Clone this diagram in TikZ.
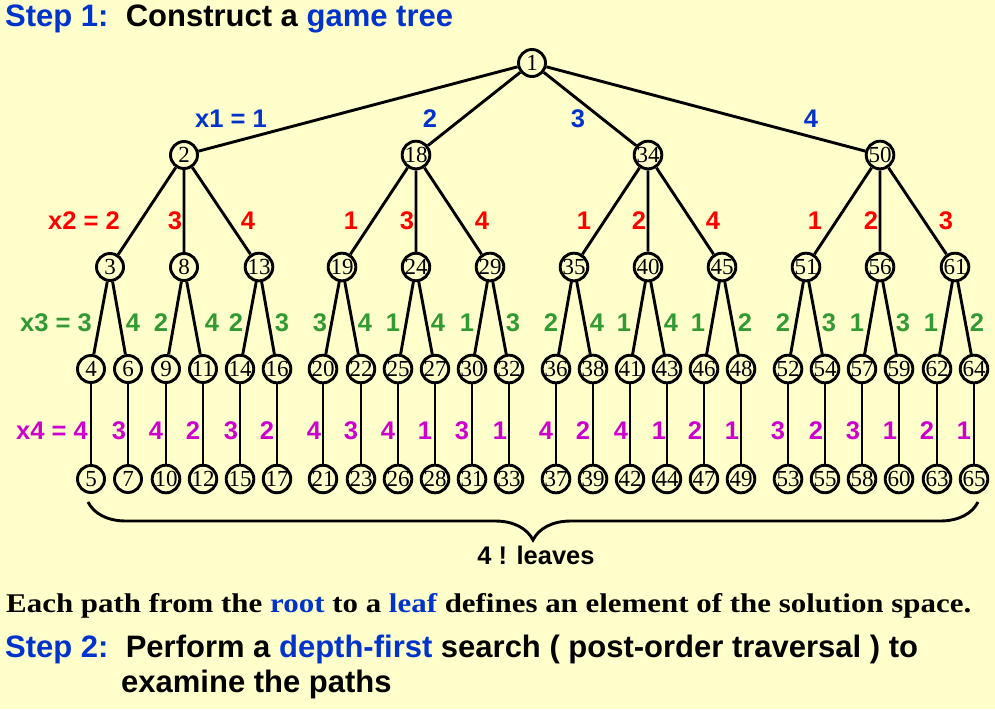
\documentclass[tikz,border=0pt]{standalone}
\usepackage{fontspec}
\setmainfont{Liberation Serif}
\setsansfont{Liberation Sans}
\usepackage{graphicx}
\usepackage{tikz}
\usetikzlibrary{decorations.pathreplacing}
\definecolor{paper}{HTML}{FFFFCC}
\definecolor{hiblue}{HTML}{0033CC}
\definecolor{xred}{HTML}{FF0000}
\definecolor{xgreen}{HTML}{339933}
\definecolor{xmag}{HTML}{CC00CC}

\begin{document}
\begin{tikzpicture}[
  x=1pt, y=-1pt,
  st/.style={draw, circle, line width=2.9pt, fill=paper, minimum size=27pt, inner sep=0pt, font=\fontsize{23}{23}\selectfont},
  br/.style={line width=2.9pt},
  lab/.style={inner sep=0pt, font=\fontsize{25.5}{25.5}\selectfont\sffamily\bfseries},
  v1/.style={lab, text=hiblue},
  v2/.style={lab, text=xred},
  v3/.style={lab, text=xgreen},
  v4/.style={lab, text=xmag},
  big/.style={inner sep=0pt, anchor=base west, font=\fontsize{31}{34}\selectfont\sffamily\bfseries}
]
\fill[paper] (0,0) rectangle (995,709);
\useasboundingbox (0,0) rectangle (995,709);

% title
\node[big] (step1) at (5,27) {\textcolor{hiblue}{Step 1:}\ \ Construct a \textcolor{hiblue}{game tree}};

% the tree, numbered in depth-first order
\node[st] (n1) at (532,63) {1};
\node[st] (n2) at (184,155) {2};
\node[st] (n18) at (416,155) {18};
\node[st] (n34) at (648,155) {34};
\node[st] (n50) at (880,155) {50};

\node[st] (n3) at (110,267) {3};   \node[st] (n8) at (184,267) {8};   \node[st] (n13) at (259,267) {13};
\node[st] (n19) at (342,267) {19}; \node[st] (n24) at (416,267) {24}; \node[st] (n29) at (490,267) {29};
\node[st] (n35) at (574,267) {35}; \node[st] (n40) at (648,267) {40}; \node[st] (n45) at (722,267) {45};
\node[st] (n51) at (806,267) {51}; \node[st] (n56) at (880,267) {56}; \node[st] (n61) at (955,267) {61};

\node[st] (n4) at (91,369) {4};    \node[st] (n6) at (128,369) {6};
\node[st] (n9) at (166,369) {9};   \node[st] (n11) at (203,369) {11};
\node[st] (n14) at (240,369) {14}; \node[st] (n16) at (277,369) {16};
\node[st] (n20) at (323,369) {20}; \node[st] (n22) at (361,369) {22};
\node[st] (n25) at (398,369) {25}; \node[st] (n27) at (435,369) {27};
\node[st] (n30) at (472,369) {30}; \node[st] (n32) at (509,369) {32};
\node[st] (n36) at (556,369) {36}; \node[st] (n38) at (593,369) {38};
\node[st] (n41) at (630,369) {41}; \node[st] (n43) at (667,369) {43};
\node[st] (n46) at (704,369) {46}; \node[st] (n48) at (741,369) {48};
\node[st] (n52) at (788,369) {52}; \node[st] (n54) at (825,369) {54};
\node[st] (n57) at (862,369) {57}; \node[st] (n59) at (899,369) {59};
\node[st] (n62) at (937,369) {62}; \node[st] (n64) at (974,369) {64};

\node[st] (n5) at (91,479) {5};    \node[st] (n7) at (128,479) {7};
\node[st] (n10) at (166,479) {10}; \node[st] (n12) at (203,479) {12};
\node[st] (n15) at (240,479) {15}; \node[st] (n17) at (277,479) {17};
\node[st] (n21) at (323,479) {21}; \node[st] (n23) at (361,479) {23};
\node[st] (n26) at (398,479) {26}; \node[st] (n28) at (435,479) {28};
\node[st] (n31) at (472,479) {31}; \node[st] (n33) at (509,479) {33};
\node[st] (n37) at (556,479) {37}; \node[st] (n39) at (593,479) {39};
\node[st] (n42) at (630,479) {42}; \node[st] (n44) at (667,479) {44};
\node[st] (n47) at (704,479) {47}; \node[st] (n49) at (741,479) {49};
\node[st] (n53) at (788,479) {53}; \node[st] (n55) at (825,479) {55};
\node[st] (n58) at (862,479) {58}; \node[st] (n60) at (899,479) {60};
\node[st] (n63) at (937,479) {63}; \node[st] (n65) at (974,479) {65};

\draw[br] (n1) -- (n2) (n1) -- (n18) (n1) -- (n34) (n1) -- (n50);
\draw[br] (n2) -- (n3) (n2) -- (n8) (n2) -- (n13) (n18) -- (n19) (n18) -- (n24) (n18) -- (n29);
\draw[br] (n34) -- (n35) (n34) -- (n40) (n34) -- (n45) (n50) -- (n51) (n50) -- (n56) (n50) -- (n61);
\draw[br] (n3) -- (n4) (n3) -- (n6) (n8) -- (n9) (n8) -- (n11) (n13) -- (n14) (n13) -- (n16);
\draw[br] (n19) -- (n20) (n19) -- (n22) (n24) -- (n25) (n24) -- (n27) (n29) -- (n30) (n29) -- (n32);
\draw[br] (n35) -- (n36) (n35) -- (n38) (n40) -- (n41) (n40) -- (n43) (n45) -- (n46) (n45) -- (n48);
\draw[br] (n51) -- (n52) (n51) -- (n54) (n56) -- (n57) (n56) -- (n59) (n61) -- (n62) (n61) -- (n64);
\draw[br] (n4) -- (n5) (n6) -- (n7) (n9) -- (n10) (n11) -- (n12) (n14) -- (n15) (n16) -- (n17);
\draw[br] (n20) -- (n21) (n22) -- (n23) (n25) -- (n26) (n27) -- (n28) (n30) -- (n31) (n32) -- (n33);
\draw[br] (n36) -- (n37) (n38) -- (n39) (n41) -- (n42) (n43) -- (n44) (n46) -- (n47) (n48) -- (n49);
\draw[br] (n52) -- (n53) (n54) -- (n55) (n57) -- (n58) (n59) -- (n60) (n62) -- (n63) (n64) -- (n65);

% values of x1..x4 on the edges
\node[v1, anchor=east] (l2) at (267,119) {x1 = 1};
\node[v1] (l18) at (430,119) {2}; \node[v1] (l34) at (578,119) {3}; \node[v1] (l50) at (811,119) {4};

\node[v2, anchor=east] (l3) at (120,221) {x2 = 2};
\node[v2] (l8) at (175,221) {3};  \node[v2] (l13) at (248,221) {4};
\node[v2] (l19) at (351,221) {1}; \node[v2] (l24) at (407,221) {3}; \node[v2] (l29) at (482,221) {4};
\node[v2] (l35) at (584,221) {1}; \node[v2] (l40) at (639,221) {2}; \node[v2] (l45) at (713,221) {4};
\node[v2] (l51) at (815,221) {1}; \node[v2] (l56) at (871,221) {2}; \node[v2] (l61) at (946,221) {3};

\node[v3, anchor=east] (l4) at (92,323) {x3 = 3};
\node[v3] (l6) at (133,323) {4};
\node[v3] (l9) at (161,323) {2};  \node[v3] (l11) at (212,323) {4};
\node[v3] (l14) at (236,323) {2}; \node[v3] (l16) at (282,323) {3};
\node[v3] (l20) at (320,323) {3}; \node[v3] (l22) at (365,323) {4};
\node[v3] (l25) at (393,323) {1}; \node[v3] (l27) at (438,323) {4};
\node[v3] (l30) at (467,323) {1}; \node[v3] (l32) at (513,323) {3};
\node[v3] (l36) at (551,323) {2}; \node[v3] (l38) at (597,323) {4};
\node[v3] (l41) at (624,323) {1}; \node[v3] (l43) at (671,323) {4};
\node[v3] (l46) at (698,323) {1}; \node[v3] (l48) at (745,323) {2};
\node[v3] (l52) at (783,323) {2}; \node[v3] (l54) at (829,323) {3};
\node[v3] (l57) at (857,323) {1}; \node[v3] (l59) at (903,323) {3};
\node[v3] (l62) at (931,323) {1}; \node[v3] (l64) at (977,323) {2};

\node[v4, anchor=east] (l5) at (88,431) {x4 = 4};
\node[v4] (l7) at (119,431) {3};
\node[v4] (l10) at (156,431) {4}; \node[v4] (l12) at (193,431) {2};
\node[v4] (l15) at (231,431) {3}; \node[v4] (l17) at (267,431) {2};
\node[v4] (l21) at (314,431) {4}; \node[v4] (l23) at (351,431) {3};
\node[v4] (l26) at (388,431) {4}; \node[v4] (l28) at (425,431) {1};
\node[v4] (l31) at (462,431) {3}; \node[v4] (l33) at (500,431) {1};
\node[v4] (l37) at (546,431) {4}; \node[v4] (l39) at (583,431) {2};
\node[v4] (l42) at (621,431) {4}; \node[v4] (l44) at (659,431) {1};
\node[v4] (l47) at (695,431) {2}; \node[v4] (l49) at (732,431) {1};
\node[v4] (l53) at (778,431) {3}; \node[v4] (l55) at (816,431) {2};
\node[v4] (l58) at (853,431) {3}; \node[v4] (l60) at (890,431) {1};
\node[v4] (l63) at (927,431) {2}; \node[v4] (l65) at (964,431) {1};

% brace under the leaves
\coordinate (bl) at (88,502);
\coordinate (bright) at (978,502);
\draw[br, decorate, decoration={brace, mirror, amplitude=38pt}] (bl) -- (bright);
\node[lab] (leaves) at (536,555) {4 ! leaves};

% notes below
\node[inner sep=0pt, anchor=base west, font=\fontsize{27}{30}\selectfont\bfseries] (path) at (6,612)
  {\resizebox{965pt}{\height}{Each path from the \textcolor{hiblue}{root} to a \textcolor{hiblue}{leaf} defines an element of the solution space.}};
\node[big] (step2) at (5,657) {\textcolor{hiblue}{Step 2:}\ \ Perform a \textcolor{hiblue}{depth-first} search ( post-order traversal ) to};
\node[big] (step2b) at (121,692) {examine the paths};
\end{tikzpicture}
\end{document}
